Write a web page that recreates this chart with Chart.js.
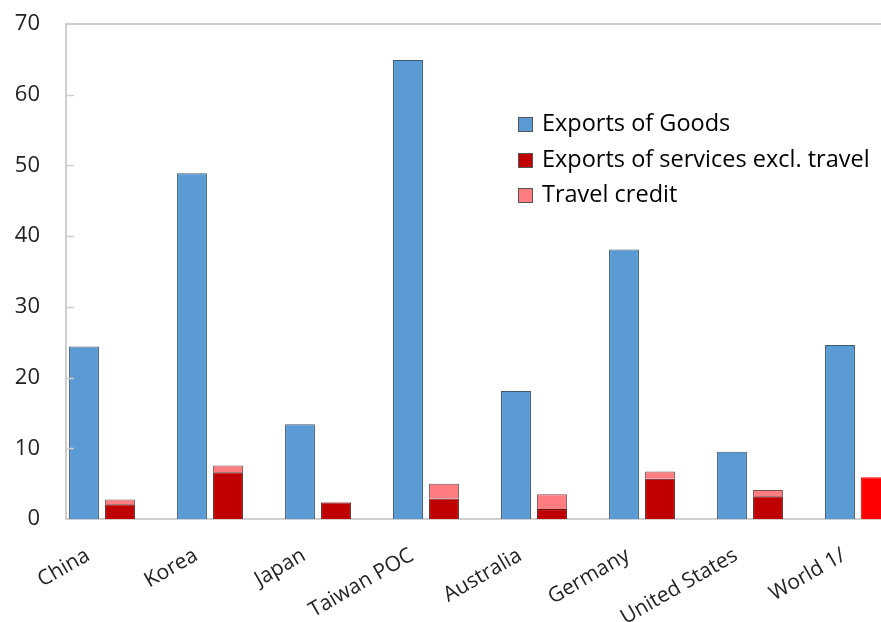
<!DOCTYPE html>
<html>
<head>
<meta charset="utf-8">
<script src="https://cdn.jsdelivr.net/npm/chart.js@4/dist/chart.umd.min.js"></script>
<style>
  html, body { margin: 0; padding: 0; background: #fff; overflow: hidden; }
  #wrap { position: relative; width: 930px; height: 622px; }
  #legend { position: absolute; left: 518px; top: 105px; font-family: "Open Sans", sans-serif; font-size: 23.5px; color: #000; }
  #legend div { height: 35.5px; line-height: 35.5px; white-space: nowrap; }
  #legend span.box { display: inline-block; width: 15px; height: 15px; margin-right: 9px; vertical-align: -1px; box-sizing: border-box; border: 1px solid #555; }
</style>
</head>
<body>
<div id="wrap">
  <canvas id="myChart" width="930" height="622"></canvas>
  <div id="legend"></div>
</div>
<script>
var countries = ['China', 'Korea', 'Japan', 'Taiwan POC', 'Australia', 'Germany', 'United States', 'World 1/'];
var goods = [24.4, 48.9, 13.4, 64.9, 18.1, 38.1, 9.5, 24.6];
var services = [2.1, 6.6, 2.35, 2.9, 1.4, 5.7, 3.2, 5.9];
var travel = [0.65, 0.95, 0.1, 2.1, 2.1, 1.0, 0.9, 0];
var yTicks = [0, 10, 20, 30, 40, 50, 60, 70];

var gray = '#cfcfcf';

// frame on top of the plot area plus short inward ticks on the y axis
var frame = {
  id: 'frame',
  afterDraw: function (chart) {
    var c = chart.ctx, a = chart.chartArea, y = chart.scales.y;
    c.save();
    c.strokeStyle = gray;
    c.lineWidth = 2;
    c.beginPath();
    c.moveTo(a.left, a.bottom);
    c.lineTo(a.left, a.top);
    c.lineTo(a.right, a.top);
    c.stroke();
    c.lineWidth = 1.5;
    yTicks.forEach(function (v) {
      if (v === 0 || v === 70) return;
      var py = Math.round(y.getPixelForValue(v)) + 0.5;
      c.beginPath();
      c.moveTo(a.left, py);
      c.lineTo(a.left + 8, py);
      c.stroke();
    });
    c.restore();
  }
};

var servColors = services.map(function (v, i) { return i === countries.length - 1 ? '#ff0000' : '#c00000'; });
var servBorders = services.map(function (v, i) { return i === countries.length - 1 ? '#ff0000' : '#5a1a1a'; });

var ctx = document.getElementById('myChart').getContext('2d');
var myChart = new Chart(ctx, {
  type: 'bar',
  data: {
    labels: countries,
    datasets: [{
      label: 'Exports of Goods',
      data: goods,
      backgroundColor: '#5b9bd5',
      borderColor: '#41576b',
      borderWidth: 1,
      stack: 'goods'
    }, {
      label: 'Exports of services excl. travel',
      data: services,
      backgroundColor: servColors,
      borderColor: servBorders,
      borderWidth: 1,
      stack: 'services'
    }, {
      label: 'Travel credit',
      data: travel,
      backgroundColor: '#ff7c80',
      borderColor: '#7a5050',
      borderWidth: 1,
      stack: 'services'
    }, {
      label: '',
      data: countries.map(function () { return 0; }),
      backgroundColor: 'rgba(0,0,0,0)',
      borderWidth: 0,
      stack: 'spacer'
    }]
  },
  options: {
    responsive: false,
    animation: false,
    categoryPercentage: 1.0,
    barPercentage: 0.83,
    layout: { padding: { top: 24, right: 0, left: 0, bottom: 0 } },
    plugins: {
      legend: { display: false },
      tooltip: { enabled: false }
    },
    scales: {
      x: {
        stacked: true,
        grid: { display: false, drawTicks: false },
        border: { color: gray, width: 2 },
        ticks: {
          color: '#222',
          font: { family: 'Open Sans', size: 21 },
          minRotation: 30,
          maxRotation: 30,
          labelOffset: -32,
          padding: 24
        },
        afterFit: function (s) { s.height = 103; }
      },
      y: {
        stacked: true,
        min: 0,
        max: 70,
        grid: { display: false, drawTicks: false },
        border: { color: gray, width: 2 },
        ticks: {
          stepSize: 10,
          color: '#222',
          font: { family: 'Open Sans', size: 22 },
          padding: 26,
          callback: function (v) { return yTicks.indexOf(v) >= 0 ? v : ''; }
        },
        afterFit: function (s) {
          s.width = 66;
          // tick padding is horizontal here, don't let it push the top down
          s.paddingTop = 12;
          s.paddingBottom = 12;
        }
      }
    }
  },
  plugins: [frame]
});

// legend placed inside the plot area
var leg = document.getElementById('legend');
myChart.data.datasets.slice(0, 3).forEach(function (ds, i) {
  var row = document.createElement('div');
  var box = document.createElement('span');
  box.className = 'box';
  box.style.background = i === 1 ? '#c00000' : ds.backgroundColor;
  row.appendChild(box);
  row.appendChild(document.createTextNode(ds.label));
  leg.appendChild(row);
});
</script>
</body>
</html>
